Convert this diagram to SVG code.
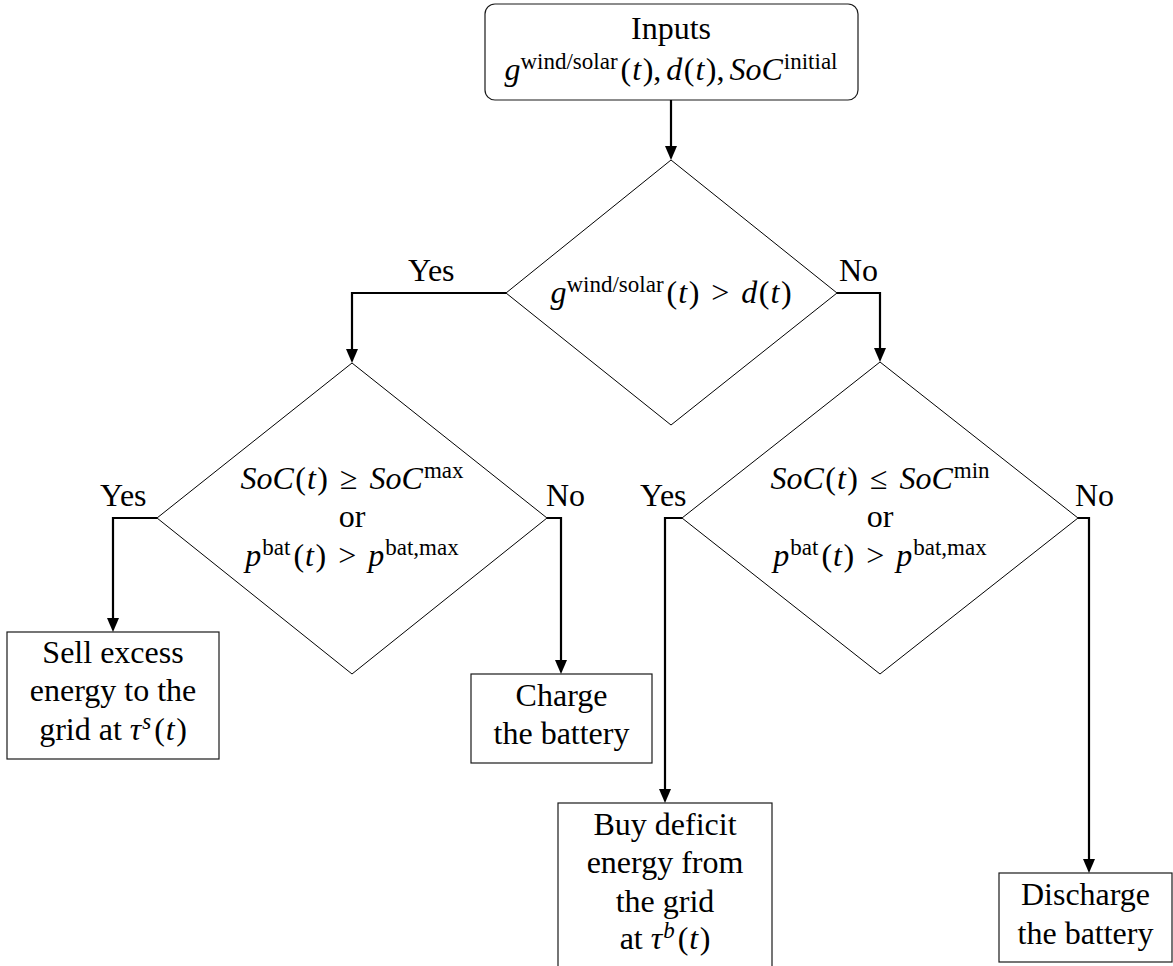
<svg xmlns="http://www.w3.org/2000/svg" width="1173" height="966" viewBox="0 0 1173 966">
<style>
.box{fill:#fff;stroke:#1a1a1a;stroke-width:1.2}
.dia{fill:none;stroke:#000;stroke-width:1}
.conn{fill:none;stroke:#000;stroke-width:2.2;stroke-linejoin:miter;marker-end:url(#arr)}
text{font-family:'Liberation Serif',Tinos,'Times New Roman',serif;font-size:32px;fill:#000;text-anchor:middle}
.lbl{text-anchor:start}
.i{font-style:italic}
.sup{font-size:23px}
</style>
<defs>
<marker id="arr" markerUnits="userSpaceOnUse" markerWidth="14" markerHeight="12" viewBox="0 0 14 12" refX="5" refY="6" orient="auto"><path d="M0,0 L14,6 L0,12 z" fill="#000"/></marker>
</defs>
<rect width="1173" height="966" fill="#fff"/>
<g id="inputs">
<rect class="box" x="485" y="4" width="373" height="96" rx="10"/>
<text x="671" y="39">Inputs</text>
<text x="671" y="80"><tspan class="i">g</tspan><tspan class="sup" dy="-11">wind/solar</tspan><tspan dy="11" dx="3">(</tspan><tspan class="i" dx="1">t</tspan><tspan dx="1.5">),</tspan><tspan class="i" dx="5">d</tspan><tspan dx="1.5">(</tspan><tspan class="i" dx="1">t</tspan><tspan dx="1.5">),</tspan><tspan class="i" dx="5">SoC</tspan><tspan class="sup" dy="-11" dx="1">initial</tspan></text>
</g>
<g id="decision1">
<polygon class="dia" points="671,160 837,293 671,425 506,293"/>
<text x="671" y="303"><tspan class="i">g</tspan><tspan class="sup" dy="-11">wind/solar</tspan><tspan dy="11" dx="3">(</tspan><tspan class="i" dx="1">t</tspan><tspan dx="1.5">)</tspan> <tspan dx="4">&gt;</tspan><tspan dx="4"> </tspan><tspan class="i">d</tspan><tspan dx="1.5">(</tspan><tspan class="i" dx="1">t</tspan><tspan dx="1.5">)</tspan></text>
</g>
<g id="decision2">
<polygon class="dia" points="352,363 547,518 352,674 157,518"/>
<text x="352" y="489"><tspan class="i">SoC</tspan><tspan dx="1.5">(</tspan><tspan class="i" dx="1">t</tspan><tspan dx="1.5">)</tspan> <tspan dx="4">≥</tspan><tspan dx="4"> </tspan><tspan class="i">SoC</tspan><tspan class="sup" dy="-11" dx="1">max</tspan></text>
<text x="352" y="527">or</text>
<text x="352" y="566"><tspan class="i">p</tspan><tspan class="sup" dy="-11" dx="1">bat</tspan><tspan dy="11" dx="3">(</tspan><tspan class="i" dx="1">t</tspan><tspan dx="1.5">)</tspan> <tspan dx="4">&gt;</tspan><tspan dx="4"> </tspan><tspan class="i">p</tspan><tspan class="sup" dy="-11" dx="1">bat,max</tspan></text>
</g>
<g id="decision3">
<polygon class="dia" points="880,362 1078,518 880,674 682,518"/>
<text x="880" y="489"><tspan class="i">SoC</tspan><tspan dx="1.5">(</tspan><tspan class="i" dx="1">t</tspan><tspan dx="1.5">)</tspan> <tspan dx="4">≤</tspan><tspan dx="4"> </tspan><tspan class="i">SoC</tspan><tspan class="sup" dy="-11" dx="1">min</tspan></text>
<text x="880" y="527">or</text>
<text x="880" y="566"><tspan class="i">p</tspan><tspan class="sup" dy="-11" dx="1">bat</tspan><tspan dy="11" dx="3">(</tspan><tspan class="i" dx="1">t</tspan><tspan dx="1.5">)</tspan> <tspan dx="4">&gt;</tspan><tspan dx="4"> </tspan><tspan class="i">p</tspan><tspan class="sup" dy="-11" dx="1">bat,max</tspan></text>
</g>
<g id="sell">
<rect class="box" x="7" y="632" width="212" height="127"/>
<text x="113" y="663">Sell excess</text>
<text x="113" y="701">energy to the</text>
<text x="113" y="740">grid at <tspan class="i">τ</tspan><tspan class="sup i" dy="-11" dx="1">s</tspan><tspan dy="11" dx="3">(</tspan><tspan class="i" dx="1">t</tspan><tspan dx="1.5">)</tspan></text>
</g>
<g id="charge">
<rect class="box" x="471" y="674" width="181" height="89"/>
<text x="561.5" y="706">Charge</text>
<text x="561.5" y="744">the battery</text>
</g>
<g id="buy">
<rect class="box" x="558" y="803" width="214" height="175"/>
<text x="665" y="835">Buy deficit</text>
<text x="665" y="873">energy from</text>
<text x="665" y="912">the grid</text>
<text x="665" y="949">at <tspan class="i">τ</tspan><tspan class="sup i" dy="-11" dx="1">b</tspan><tspan dy="11" dx="3">(</tspan><tspan class="i" dx="1">t</tspan><tspan dx="1.5">)</tspan></text>
</g>
<g id="discharge">
<rect class="box" x="999" y="873" width="173" height="89"/>
<text x="1085.5" y="905">Discharge</text>
<text x="1085.5" y="944">the battery</text>
</g>
<g id="connectors">
<path class="conn" d="M671,100 V151"/>
<path class="conn" d="M506,293 H352 V354"/>
<path class="conn" d="M837,293 H880 V353"/>
<path class="conn" d="M157,518 H113 V623"/>
<path class="conn" d="M547,518 H561 V665"/>
<path class="conn" d="M682,518 H665 V794"/>
<path class="conn" d="M1078,518 H1089 V864"/>
</g>
<g id="labels">
<text class="lbl" x="408" y="281">Yes</text>
<text class="lbl" x="839" y="281">No</text>
<text class="lbl" x="100" y="506">Yes</text>
<text class="lbl" x="546" y="506">No</text>
<text class="lbl" x="640" y="506">Yes</text>
<text class="lbl" x="1075" y="506">No</text>
</g>
</svg>
